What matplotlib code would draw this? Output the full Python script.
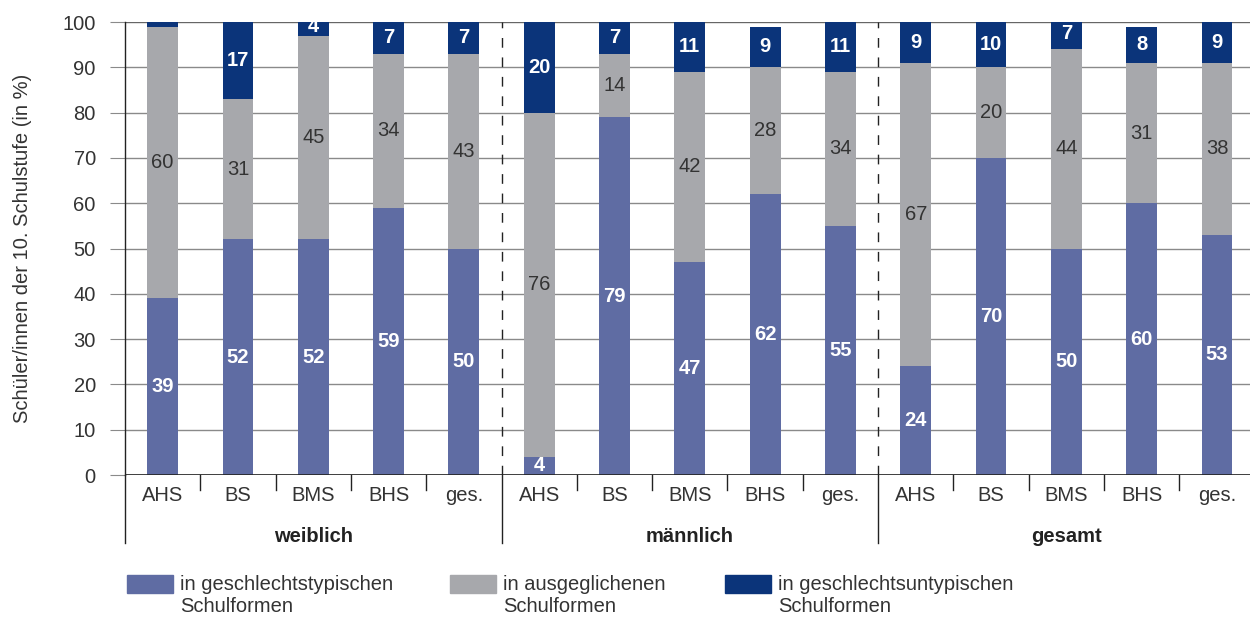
import numpy as np
import matplotlib
matplotlib.use("Agg")
import matplotlib.pyplot as plt
from matplotlib.patches import Rectangle

plt.rcParams['font.family'] = ['Liberation Sans', 'DejaVu Sans']

schulformen = ['AHS', 'BS', 'BMS', 'BHS', 'ges.']
gruppen = ['weiblich', 'männlich', 'gesamt']

# Anteile in % je Gruppe (weiblich, männlich, gesamt) und Schulform
typisch = [39, 52, 52, 59, 50,   4, 79, 47, 62, 55,   24, 70, 50, 60, 53]
ausgeglichen = [60, 31, 45, 34, 43,   76, 14, 42, 28, 34,   67, 20, 44, 31, 38]
untypisch = [1, 17, 4, 7, 7,   20, 7, 11, 9, 11,   9, 10, 7, 8, 9]
# Werte, die im Balken nicht beschriftet sind
ohne_label = [(2, 0)]

legende = ['in geschlechtstypischen\nSchulformen',
           'in ausgeglichenen\nSchulformen',
           'in geschlechtsuntypischen\nSchulformen']

c_typ = '#5f6ca3'
c_aus = '#a7a8ac'
c_untyp = '#0b347a'
c_text = '#333333'

fig = plt.figure(figsize=(12.5, 6.19), dpi=100)
ax = fig.add_axes([0.1, 0.2326, 0.9037, 0.7318])

n = len(typisch)
x = np.arange(n)
w = 0.41
fs = 14.5

ax.bar(x, typisch, w, color=c_typ, zorder=3)
ax.bar(x, ausgeglichen, w, bottom=typisch, color=c_aus, zorder=3)
unten = np.array(typisch) + np.array(ausgeglichen)
ax.bar(x, untypisch, w, bottom=unten, color=c_untyp, zorder=3)

for i in range(n):
    ax.text(x[i], typisch[i] / 2, str(typisch[i]), ha='center', va='center',
            color='white', fontsize=fs, fontweight='bold', zorder=4)
    ax.text(x[i], typisch[i] + ausgeglichen[i] / 2, str(ausgeglichen[i]),
            ha='center', va='center', color=c_text, fontsize=fs, zorder=4)
    if (2, i) not in ohne_label:
        ax.text(x[i], unten[i] + untypisch[i] / 2, str(untypisch[i]),
                ha='center', va='center', color='white', fontsize=fs,
                fontweight='bold', zorder=4)

ax.set_xlim(-0.5, n - 0.5)
ax.set_ylim(0, 100)
ax.set_yticks(range(0, 101, 10))
ax.tick_params(axis='y', length=11, color='#8a8a8a', labelsize=fs,
               labelcolor=c_text, pad=10)
ax.set_xticks([])
ax.yaxis.grid(True, color='#8a8a8a', lw=1, zorder=1)
for s in ['top', 'right', 'bottom']:
    ax.spines[s].set_visible(False)
ax.spines['left'].set_color('#222222')
ax.spines['left'].set_linewidth(1)
ax.axhline(100, color='#666666', lw=1.5, zorder=2)
ax.axhline(0, color='#222222', lw=1.2, zorder=5)

ax.set_ylabel('Schüler/innen der 10. Schulstufe (in %)', fontsize=fs,
              color=c_text, labelpad=22)

trans = ax.get_xaxis_transform()
# linke Achse nach unten verlängert
ax.plot([-0.5, -0.5], [0, -0.15], transform=trans, color='#222222', lw=1,
        clip_on=False)
k = len(schulformen)
for g, name in enumerate(gruppen):
    if g > 0:
        xs = g * k - 0.5
        ax.plot([xs, xs], [0, 1], transform=trans, color='#222222', lw=1,
                ls=(0, (7, 7)), zorder=2)
        ax.plot([xs, xs], [0, -0.15], transform=trans, color='#222222', lw=1,
                clip_on=False)
    for j, sf in enumerate(schulformen):
        ax.text(g * k + j, -0.045, sf, transform=trans, ha='center',
                va='center', fontsize=fs, color=c_text)
        if j > 0:
            ax.plot([g * k + j - 0.5] * 2, [0, -0.033], transform=trans,
                    color='#222222', lw=1, clip_on=False)
    ax.text(g * k + (k - 1) / 2, -0.135, name, transform=trans, ha='center',
            va='center', fontsize=fs, fontweight='bold', color='#222222')

# Legende
H = 619
for px, farbe, txt in zip([127, 450, 725], [c_typ, c_aus, c_untyp], legende):
    fig.add_artist(Rectangle((px / 1250, (H - 593) / H), 46 / 1250, 18 / H,
                             transform=fig.transFigure, color=farbe))
    zeilen = txt.split('\n')
    fig.text((px + 53) / 1250, 1 - 584 / H, zeilen[0], va='center',
             fontsize=fs, color=c_text)
    fig.text((px + 53) / 1250, 1 - 607 / H, zeilen[1], va='center',
             fontsize=fs, color=c_text)

fig.savefig('out.png', dpi=100)
